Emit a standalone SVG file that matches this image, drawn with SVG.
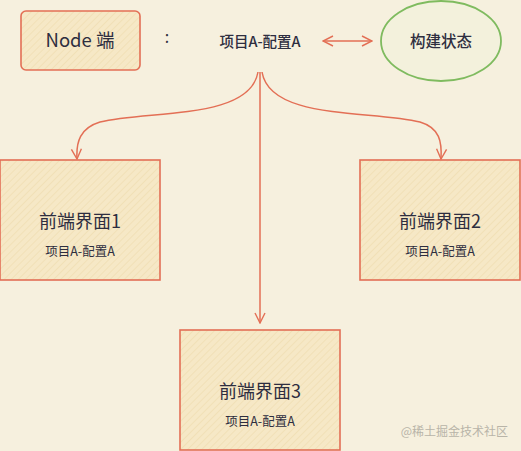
<svg xmlns="http://www.w3.org/2000/svg" width="521" height="451" viewBox="0 0 521 451">
<defs>
<pattern id="hatch" patternUnits="userSpaceOnUse" width="5" height="5" patternTransform="rotate(45)">
<rect width="5" height="5" fill="#f6e8c6"/>
<line x1="0" y1="0" x2="0" y2="5" stroke="#eedbae" stroke-width="1.2"/>
</pattern>
<marker id="ah" viewBox="0 0 12 12" refX="11" refY="6" markerWidth="12" markerHeight="12" markerUnits="userSpaceOnUse" orient="auto-start-reverse">
<path d="M1,1 L11,6 L1,11" fill="none" stroke="#e36f55" stroke-width="1.4"/>
</marker>
<style>
.box{fill:url(#hatch);stroke:#e36f55;stroke-width:1.6}
.conn{fill:none;stroke:#e36f55;stroke-width:1.5}
.t{font-family:"Noto Sans CJK SC","Noto Sans",sans-serif;fill:#2e2e40;text-anchor:middle}
.big{font-size:18px}
.small{font-size:12.5px}
</style>
</defs>
<rect width="521" height="451" fill="#f6f0de"/>
<g id="connectors">
<path class="conn" d="M372,41 L323,41" marker-start="url(#ah)" marker-end="url(#ah)"/>
<path class="conn" d="M258,72 C250,120 150,110 100,122 C80,128 76,142 77,159" marker-end="url(#ah)"/>
<path class="conn" d="M262,72 C270,120 370,110 420,122 C440,128 442,142 441,159" marker-end="url(#ah)"/>
<path class="conn" d="M260,72 L260,323" marker-end="url(#ah)"/>
</g>
<g id="node-node">
<rect class="box" x="21" y="11" width="119" height="59" rx="5"/>
<text class="t" x="80" y="47" font-size="18.5">Node 端</text>
</g>
<text class="t" x="167" y="43" font-size="16">:</text>
<g id="config">
<text class="t" x="260" y="47" font-size="14.5" font-weight="500">项目A-配置A</text>
</g>
<g id="build-state">
<ellipse cx="441" cy="41" rx="60" ry="40" fill="#f3f1dc" stroke="#7fbb5f" stroke-width="1.8"/>
<text class="t" x="441" y="47" font-size="15.5" font-weight="500">构建状态</text>
</g>
<g id="fe1">
<rect class="box" x="0" y="160" width="160" height="120"/>
<text class="t big" x="80" y="228">前端界面1</text>
<text class="t small" x="80" y="256">项目A-配置A</text>
</g>
<g id="fe2">
<rect class="box" x="360" y="160" width="160" height="120"/>
<text class="t big" x="440" y="228">前端界面2</text>
<text class="t small" x="440" y="256">项目A-配置A</text>
</g>
<g id="fe3">
<rect class="box" x="180" y="330" width="160" height="120"/>
<text class="t big" x="260" y="398">前端界面3</text>
<text class="t small" x="260" y="426">项目A-配置A</text>
</g>
<text x="508" y="436" font-family="Noto Sans CJK SC,sans-serif" font-size="12" fill="#b8b4a8" text-anchor="end">@稀土掘金技术社区</text>
</svg>
